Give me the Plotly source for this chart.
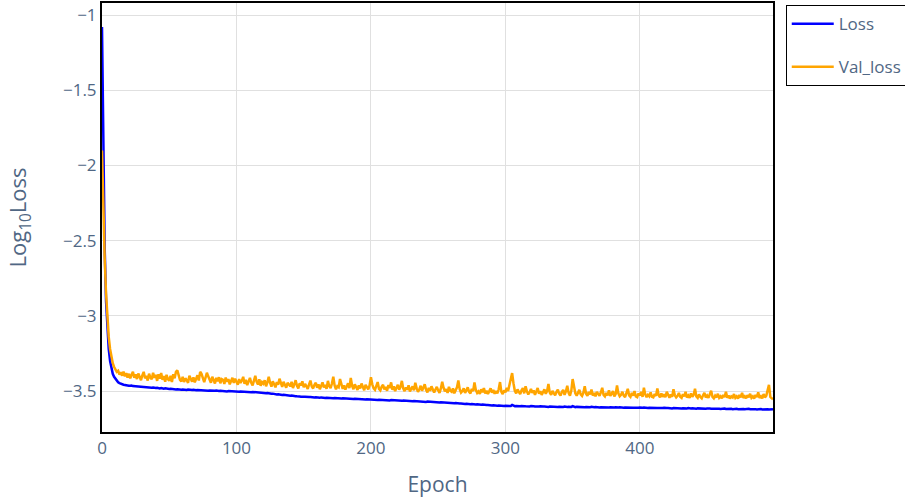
import plotly.graph_objects as go

loss = [
-1.080,-1.950,-2.550,-2.900,-3.100,-3.220,-3.300,-3.350,-3.385,-3.405,
-3.420,-3.432,-3.441,-3.447,-3.452,-3.455,-3.458,-3.459,-3.462,-3.461,
-3.464,-3.465,-3.463,-3.467,-3.468,-3.466,-3.470,-3.469,-3.471,-3.472,
-3.470,-3.473,-3.474,-3.472,-3.476,-3.475,-3.477,-3.478,-3.476,-3.479,
-3.480,-3.478,-3.481,-3.482,-3.480,-3.483,-3.484,-3.482,-3.485,-3.484,
-3.486,-3.485,-3.487,-3.488,-3.486,-3.489,-3.488,-3.490,-3.489,-3.491,
-3.490,-3.492,-3.491,-3.493,-3.490,-3.492,-3.494,-3.493,-3.491,-3.494,
-3.495,-3.493,-3.494,-3.496,-3.494,-3.495,-3.497,-3.495,-3.496,-3.498,
-3.496,-3.497,-3.499,-3.497,-3.498,-3.496,-3.499,-3.500,-3.498,-3.499,
-3.501,-3.499,-3.500,-3.502,-3.500,-3.501,-3.503,-3.501,-3.502,-3.504,
-3.502,-3.503,-3.505,-3.503,-3.504,-3.506,-3.504,-3.505,-3.507,-3.505,
-3.506,-3.508,-3.506,-3.507,-3.509,-3.508,-3.510,-3.509,-3.511,-3.510,
-3.512,-3.511,-3.514,-3.513,-3.516,-3.515,-3.518,-3.517,-3.520,-3.519,
-3.522,-3.521,-3.524,-3.523,-3.526,-3.525,-3.527,-3.529,-3.528,-3.530,
-3.531,-3.530,-3.533,-3.532,-3.534,-3.535,-3.533,-3.536,-3.537,-3.535,
-3.538,-3.537,-3.539,-3.538,-3.540,-3.539,-3.541,-3.540,-3.542,-3.541,
-3.543,-3.541,-3.544,-3.542,-3.545,-3.543,-3.546,-3.544,-3.545,-3.547,
-3.545,-3.546,-3.548,-3.546,-3.547,-3.549,-3.547,-3.548,-3.550,-3.548,
-3.549,-3.551,-3.549,-3.550,-3.552,-3.550,-3.551,-3.553,-3.551,-3.552,
-3.554,-3.552,-3.553,-3.555,-3.553,-3.554,-3.556,-3.554,-3.555,-3.557,
-3.555,-3.556,-3.558,-3.556,-3.557,-3.559,-3.557,-3.558,-3.560,-3.558,
-3.559,-3.561,-3.559,-3.560,-3.562,-3.560,-3.561,-3.563,-3.561,-3.562,
-3.564,-3.562,-3.563,-3.565,-3.563,-3.564,-3.566,-3.564,-3.565,-3.567,
-3.566,-3.568,-3.566,-3.567,-3.569,-3.568,-3.570,-3.568,-3.569,-3.571,
-3.570,-3.572,-3.570,-3.571,-3.573,-3.572,-3.574,-3.572,-3.573,-3.575,
-3.574,-3.576,-3.574,-3.575,-3.577,-3.576,-3.578,-3.577,-3.579,-3.578,
-3.580,-3.579,-3.581,-3.580,-3.582,-3.581,-3.583,-3.582,-3.584,-3.583,
-3.585,-3.584,-3.586,-3.585,-3.587,-3.586,-3.588,-3.587,-3.589,-3.588,
-3.590,-3.589,-3.591,-3.590,-3.592,-3.591,-3.593,-3.592,-3.594,-3.593,
-3.595,-3.594,-3.596,-3.595,-3.597,-3.596,-3.598,-3.597,-3.598,-3.599,
-3.598,-3.599,-3.597,-3.600,-3.599,-3.592,-3.598,-3.600,-3.599,-3.601,
-3.600,-3.601,-3.599,-3.602,-3.600,-3.601,-3.603,-3.601,-3.602,-3.600,
-3.603,-3.601,-3.602,-3.604,-3.602,-3.603,-3.601,-3.604,-3.603,-3.602,
-3.604,-3.603,-3.605,-3.603,-3.604,-3.602,-3.605,-3.604,-3.603,-3.605,
-3.604,-3.606,-3.604,-3.605,-3.603,-3.606,-3.605,-3.604,-3.606,-3.605,
-3.600,-3.605,-3.607,-3.605,-3.606,-3.604,-3.607,-3.606,-3.605,-3.607,
-3.606,-3.608,-3.606,-3.607,-3.605,-3.608,-3.607,-3.606,-3.608,-3.607,
-3.609,-3.607,-3.608,-3.606,-3.609,-3.608,-3.607,-3.609,-3.608,-3.610,
-3.608,-3.609,-3.607,-3.610,-3.609,-3.608,-3.610,-3.609,-3.611,-3.609,
-3.610,-3.608,-3.611,-3.610,-3.609,-3.611,-3.610,-3.612,-3.610,-3.611,
-3.609,-3.612,-3.611,-3.610,-3.612,-3.611,-3.613,-3.611,-3.612,-3.610,
-3.613,-3.612,-3.611,-3.613,-3.612,-3.614,-3.612,-3.613,-3.611,-3.614,
-3.613,-3.612,-3.614,-3.613,-3.615,-3.613,-3.614,-3.612,-3.615,-3.614,
-3.613,-3.615,-3.614,-3.616,-3.614,-3.615,-3.613,-3.616,-3.615,-3.614,
-3.616,-3.615,-3.617,-3.615,-3.616,-3.614,-3.617,-3.616,-3.615,-3.617,
-3.616,-3.618,-3.616,-3.617,-3.615,-3.618,-3.617,-3.616,-3.618,-3.617,
-3.619,-3.617,-3.618,-3.616,-3.619,-3.618,-3.617,-3.619,-3.618,-3.620,
-3.618,-3.619,-3.617,-3.620,-3.619,-3.618,-3.620,-3.619,-3.621,-3.619,
-3.620,-3.618,-3.621,-3.620,-3.619,-3.621,-3.620,-3.622,-3.620,-3.621,
-3.619,-3.622,-3.621,-3.620,-3.622,-3.621,-3.623,-3.621,-3.622,-3.620,
]

val_loss = [
-1.900,-2.300,-2.620,-2.850,-3.020,-3.140,-3.220,-3.280,-3.315,-3.340,
-3.360,-3.372,-3.365,-3.390,-3.375,-3.398,-3.370,-3.402,-3.380,-3.410,
-3.385,-3.415,-3.392,-3.372,-3.412,-3.388,-3.420,-3.383,-3.405,-3.428,
-3.395,-3.372,-3.415,-3.398,-3.430,-3.385,-3.410,-3.422,-3.378,-3.412,
-3.392,-3.432,-3.388,-3.418,-3.380,-3.425,-3.400,-3.438,-3.392,-3.420,
-3.430,-3.398,-3.440,-3.388,-3.415,-3.372,-3.362,-3.398,-3.425,-3.435,
-3.405,-3.440,-3.415,-3.428,-3.445,-3.398,-3.422,-3.438,-3.408,-3.442,
-3.418,-3.395,-3.430,-3.372,-3.385,-3.412,-3.440,-3.410,-3.378,-3.402,
-3.425,-3.445,-3.405,-3.428,-3.450,-3.412,-3.435,-3.408,-3.448,-3.420,
-3.425,-3.452,-3.410,-3.438,-3.420,-3.455,-3.430,-3.412,-3.445,-3.418,
-3.438,-3.458,-3.420,-3.445,-3.430,-3.405,-3.452,-3.425,-3.460,-3.432,
-3.412,-3.445,-3.462,-3.430,-3.398,-3.438,-3.455,-3.422,-3.465,-3.440,
-3.450,-3.428,-3.468,-3.442,-3.405,-3.445,-3.470,-3.435,-3.455,-3.475,
-3.440,-3.458,-3.418,-3.452,-3.472,-3.438,-3.460,-3.478,-3.445,-3.455,
-3.468,-3.438,-3.480,-3.455,-3.428,-3.465,-3.482,-3.448,-3.462,-3.435,
-3.475,-3.452,-3.465,-3.485,-3.455,-3.430,-3.470,-3.482,-3.458,-3.445,
-3.478,-3.455,-3.488,-3.462,-3.442,-3.475,-3.458,-3.485,-3.432,-3.468,
-3.480,-3.450,-3.405,-3.462,-3.488,-3.468,-3.475,-3.420,-3.458,-3.485,
-3.462,-3.490,-3.470,-3.448,-3.480,-3.412,-3.465,-3.488,-3.455,-3.475,
-3.492,-3.462,-3.482,-3.450,-3.478,-3.495,-3.458,-3.470,-3.488,-3.462,
-3.408,-3.455,-3.482,-3.492,-3.465,-3.440,-3.485,-3.495,-3.470,-3.458,
-3.488,-3.472,-3.498,-3.460,-3.480,-3.442,-3.492,-3.468,-3.500,-3.478,
-3.458,-3.490,-3.472,-3.432,-3.482,-3.500,-3.475,-3.490,-3.462,-3.502,
-3.480,-3.468,-3.495,-3.445,-3.482,-3.505,-3.488,-3.465,-3.498,-3.478,
-3.455,-3.492,-3.508,-3.478,-3.498,-3.468,-3.488,-3.510,-3.490,-3.472,
-3.495,-3.512,-3.482,-3.438,-3.478,-3.502,-3.488,-3.512,-3.472,-3.498,
-3.505,-3.482,-3.515,-3.492,-3.475,-3.430,-3.488,-3.510,-3.500,-3.482,
-3.512,-3.495,-3.475,-3.505,-3.515,-3.485,-3.500,-3.442,-3.492,-3.512,
-3.502,-3.518,-3.488,-3.508,-3.480,-3.515,-3.498,-3.520,-3.502,-3.482,
-3.510,-3.492,-3.518,-3.500,-3.515,-3.488,-3.440,-3.505,-3.520,-3.495,
-3.508,-3.478,-3.500,-3.455,-3.410,-3.380,-3.448,-3.498,-3.515,-3.488,
-3.505,-3.520,-3.495,-3.480,-3.515,-3.468,-3.502,-3.522,-3.508,-3.485,
-3.512,-3.495,-3.525,-3.505,-3.480,-3.518,-3.500,-3.525,-3.508,-3.488,
-3.518,-3.500,-3.452,-3.510,-3.525,-3.498,-3.515,-3.528,-3.505,-3.490,
-3.518,-3.530,-3.505,-3.492,-3.525,-3.502,-3.465,-3.512,-3.530,-3.498,
-3.420,-3.478,-3.515,-3.530,-3.508,-3.492,-3.522,-3.532,-3.510,-3.468,
-3.518,-3.532,-3.505,-3.522,-3.490,-3.530,-3.512,-3.535,-3.505,-3.522,
-3.532,-3.508,-3.478,-3.525,-3.535,-3.512,-3.528,-3.495,-3.532,-3.518,
-3.500,-3.535,-3.520,-3.462,-3.515,-3.535,-3.525,-3.505,-3.530,-3.540,
-3.518,-3.485,-3.528,-3.538,-3.512,-3.530,-3.500,-3.535,-3.540,-3.515,
-3.528,-3.505,-3.538,-3.478,-3.522,-3.540,-3.525,-3.535,-3.508,-3.538,
-3.542,-3.520,-3.532,-3.482,-3.528,-3.542,-3.515,-3.538,-3.522,-3.540,
-3.505,-3.532,-3.545,-3.522,-3.538,-3.488,-3.528,-3.542,-3.532,-3.512,
-3.538,-3.545,-3.520,-3.535,-3.505,-3.542,-3.530,-3.545,-3.515,-3.538,
-3.525,-3.485,-3.535,-3.545,-3.522,-3.540,-3.548,-3.528,-3.512,-3.542,
-3.530,-3.545,-3.522,-3.498,-3.538,-3.548,-3.530,-3.542,-3.518,-3.545,
-3.535,-3.548,-3.525,-3.540,-3.505,-3.545,-3.530,-3.550,-3.535,-3.542,
-3.520,-3.545,-3.535,-3.550,-3.525,-3.542,-3.512,-3.545,-3.535,-3.548,
-3.528,-3.542,-3.518,-3.545,-3.535,-3.550,-3.525,-3.540,-3.508,-3.545,
-3.535,-3.548,-3.520,-3.542,-3.530,-3.490,-3.458,-3.538,-3.550,-3.555,
]

epochs = list(range(len(loss)))
series_names = ["Loss", "Val_loss"]
x_ticks = [0, 100, 200, 300, 400]
y_ticks = [-1, -1.5, -2, -2.5, -3, -3.5]

fig = go.Figure()
fig.add_trace(go.Scatter(x=epochs, y=loss, mode="lines", name=series_names[0],
                         line=dict(color="blue", width=2.5), legendgroup="a"))
fig.add_trace(go.Scatter(x=epochs, y=val_loss, mode="lines", name=series_names[1],
                         line=dict(color="orange", width=2.5), legendgroup="b"))

font_color = "#506784"
fig.update_layout(
    width=905, height=500,
    margin=dict(l=102, r=132, t=3, b=68, autoexpand=False),
    paper_bgcolor="white", plot_bgcolor="white",
    font=dict(family="Open Sans, sans-serif", color=font_color, size=17),
    legend=dict(x=1.019, y=0.995, xanchor="left", yanchor="top",
                bordercolor="black", borderwidth=1, font=dict(size=17),
                tracegroupgap=18, itemwidth=42),
    xaxis=dict(title=dict(text="Epoch", font=dict(size=21), standoff=19),
               range=[0, 499], tickvals=x_ticks,
               showline=True, linecolor="black", linewidth=2, mirror=True,
               showgrid=True, gridcolor="#e0e0e0", gridwidth=1, zeroline=False),
    yaxis=dict(title=dict(text="Log<sub>10</sub>Loss", font=dict(size=22), standoff=30),
               range=[-3.772, -0.92], tickvals=y_ticks,
               showline=True, linecolor="black", linewidth=2, mirror=True,
               showgrid=True, gridcolor="#e0e0e0", gridwidth=1, zeroline=False),
)

fig.write_html("out.html")
